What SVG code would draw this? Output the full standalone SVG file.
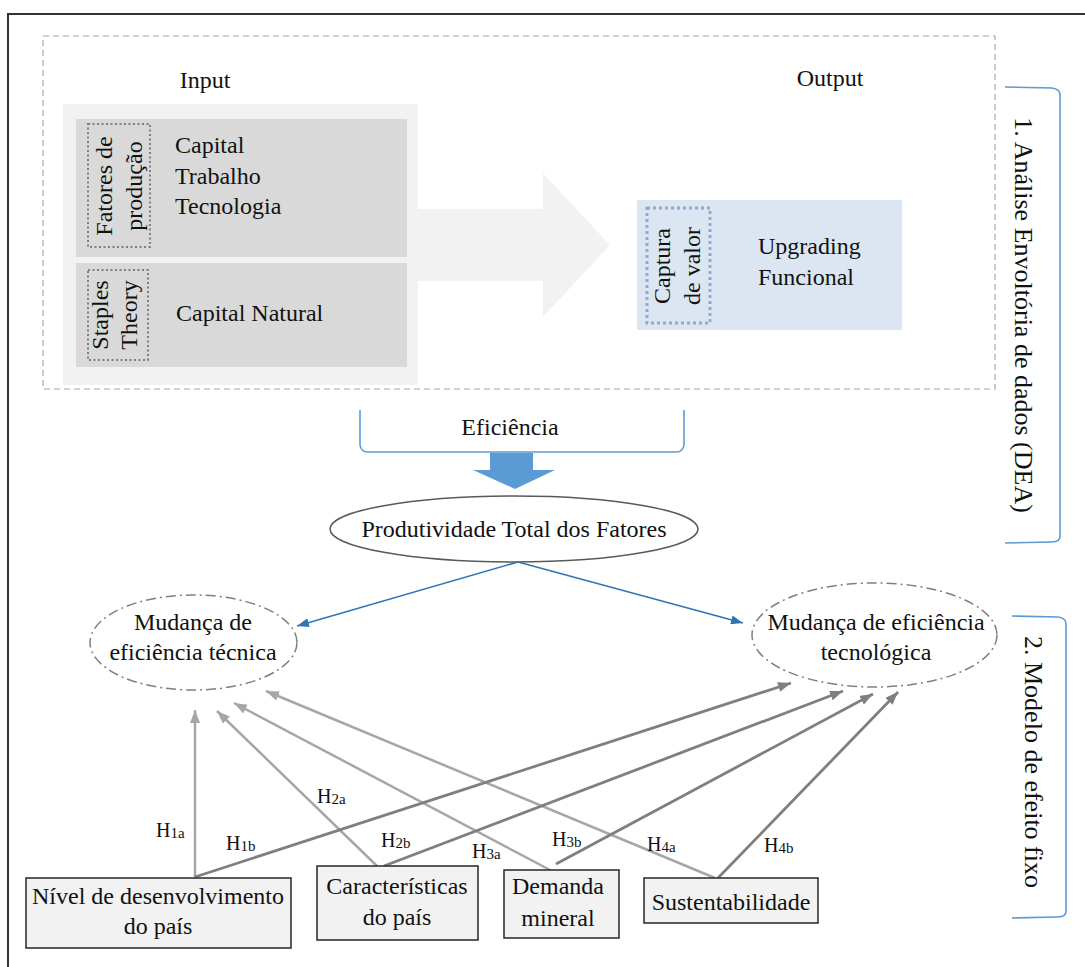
<svg xmlns="http://www.w3.org/2000/svg" width="1085" height="967" viewBox="0 0 1085 967" font-family="'Liberation Serif', 'DejaVu Serif', 'Times New Roman', serif">
  <style>
    text { font-family: "Liberation Serif", "DejaVu Serif", "Times New Roman", serif; font-size: 24px; fill: #111; }
    .mid { text-anchor: middle; }
    .big { font-size: 26px; }
    .hl { font-size: 20px; }
    .sub { font-size: 15px; }
    .box { fill: #f2f2f2; stroke: #262626; stroke-width: 1.5; }
    .dot { fill: none; stroke: #7f7f7f; stroke-width: 2; stroke-dasharray: 2 2.5; }
    .dotblue { fill: none; stroke: #8eaadb; stroke-width: 3; stroke-dasharray: 3 3; }
    .dashdot { fill: #fff; stroke: #7f7f7f; stroke-width: 1.5; stroke-dasharray: 10 4 2 4; }
    .brace { fill: none; stroke: #5b9bd5; stroke-width: 1.6; }
    .la { fill: none; stroke: #a6a6a6; stroke-width: 2.5; marker-end: url(#headA); }
    .lb { fill: none; stroke: #7f7f7f; stroke-width: 2.8; marker-end: url(#headB); }
    .lblue { fill: none; stroke: #2e75b6; stroke-width: 1.5; marker-end: url(#headBlue); }
  </style>
  <defs>
    <marker id="headA" markerUnits="userSpaceOnUse" markerWidth="13" markerHeight="10" refX="13" refY="5" orient="auto">
      <path d="M0,0 L13,5 L0,10 z" fill="#a6a6a6"/>
    </marker>
    <marker id="headB" markerUnits="userSpaceOnUse" markerWidth="13" markerHeight="10" refX="13" refY="5" orient="auto">
      <path d="M0,0 L13,5 L0,10 z" fill="#7f7f7f"/>
    </marker>
    <marker id="headBlue" markerUnits="userSpaceOnUse" markerWidth="12" markerHeight="9" refX="12" refY="4.5" orient="auto">
      <path d="M0,0 L12,4.5 L0,9 z" fill="#2e75b6"/>
    </marker>
  </defs>

  <rect width="1085" height="967" fill="#fff"/>
  <!-- outer frame -->
  <path d="M8,967 L8,14 L1085,14" fill="none" stroke="#333" stroke-width="2"/>

  <!-- DEA block -->
  <g id="dea">
    <rect x="43" y="36" width="952" height="353" fill="none" stroke="#a6a6a6" stroke-width="1.2" stroke-dasharray="6 4"/>
    <text class="mid" x="205" y="88">Input</text>
    <text class="mid" x="830" y="86">Output</text>
    <!-- transformation arrow -->
    <path d="M418,209 L543,209 L543,173 L610,245 L543,317 L543,281 L418,281 z" fill="#f2f2f2"/>
  </g>

  <g id="input-panel">
    <rect x="63" y="104" width="355" height="281" fill="#f2f2f2"/>
  </g>

  <g id="fatores">
    <rect x="76" y="119" width="331" height="138" fill="#d9d9d9"/>
    <rect class="dot" x="88" y="124" width="62" height="123"/>
    <g transform="translate(119,186) rotate(-90)">
      <text class="mid" x="0" y="-7">Fatores de</text>
      <text class="mid" x="0" y="23">produção</text>
    </g>
    <text x="175" y="153">Capital</text>
    <text x="175" y="184">Trabalho</text>
    <text x="175" y="214">Tecnologia</text>
  </g>

  <g id="staples">
    <rect x="76" y="263" width="331" height="104" fill="#d9d9d9"/>
    <rect class="dot" x="88" y="270" width="60" height="90"/>
    <g transform="translate(118,315) rotate(-90)">
      <text class="mid" x="0" y="-10">Staples</text>
      <text class="mid" x="0" y="19">Theory</text>
    </g>
    <text x="176" y="321">Capital Natural</text>
  </g>

  <g id="output">
    <rect x="637" y="200" width="265" height="130" fill="#dce6f2"/>
    <rect class="dotblue" x="647" y="208" width="63" height="115"/>
    <g transform="translate(678,266) rotate(-90)">
      <text class="mid" x="0" y="-8">Captura</text>
      <text class="mid" x="0" y="22">de valor</text>
    </g>
    <text x="758" y="254">Upgrading</text>
    <text x="758" y="285">Funcional</text>
  </g>

  <g id="brace-dea">
    <path class="brace" d="M1005,87 L1052,88 Q1060,89 1060,95 L1060,536 Q1060,542 1052,542 L1005,543"/>
    <g transform="translate(1015,315) rotate(90)">
      <text class="mid big" x="0" y="0">1. Análise Envoltória de dados (DEA)</text>
    </g>
  </g>

  <g id="eficiencia">
    <path class="brace" d="M360,410 L360,445 Q361,452 368,452 L676,452 Q683,452 684,445 L684,410"/>
    <text class="mid" x="510" y="435">Eficiência</text>
    <path d="M490,453 L533,453 L533,470 L555,470 L515,489 L473,470 L490,470 z" fill="#5b9bd5"/>
  </g>

  <g id="ptf">
    <ellipse cx="514" cy="529" rx="184" ry="33" fill="#fff" stroke="#595959" stroke-width="1.5"/>
    <text class="mid" x="514" y="537">Produtividade Total dos Fatores</text>
  </g>

  <g id="tecnica">
    <ellipse class="dashdot" cx="193.5" cy="642.5" rx="103.5" ry="47.5"/>
    <text class="mid" x="193" y="630">Mudança de</text>
    <text class="mid" x="193" y="660">eficiência técnica</text>
  </g>

  <g id="tecnologica">
    <ellipse class="dashdot" cx="874.5" cy="635" rx="122.5" ry="52"/>
    <text class="mid" x="876" y="630">Mudança de eficiência</text>
    <text class="mid" x="876" y="660">tecnológica</text>
  </g>

  <g id="brace-fe">
    <path class="brace" d="M1012,616 L1058,617 Q1066,618 1066,624 L1066,911 Q1066,917 1058,917 L1012,918"/>
    <g transform="translate(1025,762) rotate(90)">
      <text class="mid big" x="0" y="0">2. Modelo de efeito fixo</text>
    </g>
  </g>

  <g id="connectors">
    <line class="lblue" x1="518" y1="562" x2="297" y2="626"/>
    <line class="lblue" x1="518" y1="562" x2="743" y2="623"/>
    <line class="la" x1="195" y1="877" x2="195" y2="710"/>
    <line class="la" x1="377" y1="866" x2="217" y2="711"/>
    <line class="la" x1="550" y1="870" x2="234" y2="703"/>
    <line class="la" x1="715" y1="878" x2="266" y2="691"/>
    <line class="lb" x1="195" y1="877" x2="791" y2="683"/>
    <line class="lb" x1="384" y1="866" x2="843" y2="691"/>
    <line class="lb" x1="556" y1="864" x2="873" y2="694"/>
    <line class="lb" x1="718" y1="878" x2="898" y2="692"/>
  </g>

  <g id="labels">
    <text class="hl" x="156" y="837">H<tspan class="sub" dy="1">1a</tspan></text>
    <text class="hl" x="226" y="850">H<tspan class="sub" dy="1">1b</tspan></text>
    <text class="hl" x="317" y="803">H<tspan class="sub" dy="1">2a</tspan></text>
    <text class="hl" x="381" y="847">H<tspan class="sub" dy="1">2b</tspan></text>
    <text class="hl" x="472" y="858">H<tspan class="sub" dy="1">3a</tspan></text>
    <text class="hl" x="552" y="846">H<tspan class="sub" dy="1">3b</tspan></text>
    <text class="hl" x="647" y="851">H<tspan class="sub" dy="1">4a</tspan></text>
    <text class="hl" x="764" y="852">H<tspan class="sub" dy="1">4b</tspan></text>
  </g>

  <g id="nivel">
    <rect class="box" x="26" y="878" width="265" height="70"/>
    <text class="mid" x="158" y="904">Nível de desenvolvimento</text>
    <text class="mid" x="158" y="934">do país</text>
  </g>
  <g id="caracteristicas">
    <rect class="box" x="317" y="866" width="161" height="74"/>
    <text class="mid" x="397" y="894">Características</text>
    <text class="mid" x="397" y="925">do país</text>
  </g>
  <g id="demanda">
    <rect class="box" x="504" y="870" width="115" height="68"/>
    <text class="mid" x="558" y="894">Demanda</text>
    <text class="mid" x="558" y="926">mineral</text>
  </g>
  <g id="sustentabilidade">
    <rect class="box" x="644" y="878" width="174" height="45"/>
    <text class="mid" x="731" y="910">Sustentabilidade</text>
  </g>
</svg>
